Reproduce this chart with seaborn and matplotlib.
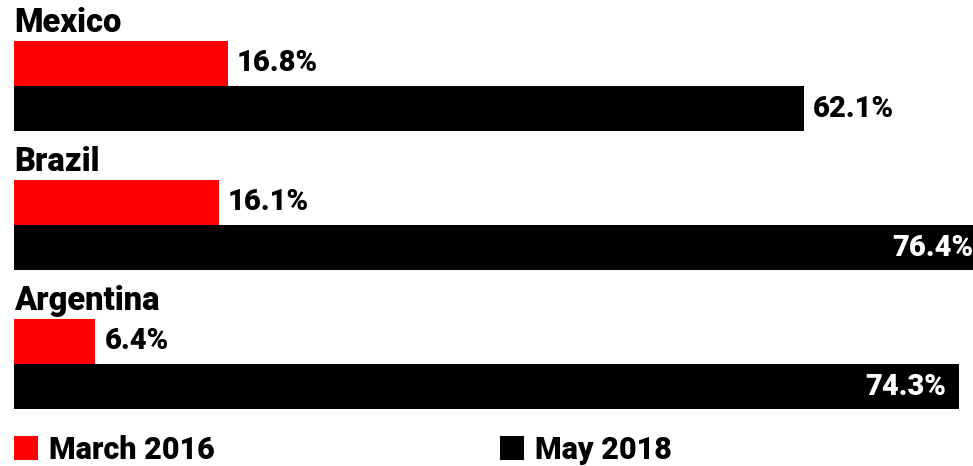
import matplotlib
matplotlib.use("Agg")
import matplotlib.pyplot as plt
from matplotlib.patches import Rectangle
import pandas as pd
import seaborn as sns

countries = ["Mexico", "Brazil", "Argentina"]
periods = ["March 2016", "May 2018"]
march_2016 = [16.8, 16.1, 6.4]
may_2018 = [62.1, 76.4, 74.3]
colors = ["#ff0000", "#000000"]

df = pd.DataFrame({
    "country": countries * 2,
    "period": [periods[0]] * 3 + [periods[1]] * 3,
    "value": march_2016 + may_2018,
})

sns.set_theme(style="white")
plt.rcParams["font.family"] = ["Roboto", "DejaVu Sans"]

W, H = 973, 466
fig = plt.figure(figsize=(W / 100, H / 100), dpi=100)
ax = fig.add_axes([14 / W, 46 / H, 959 / W, 420 / H])

sns.barplot(data=df, x="value", y="country", hue="period", orient="h",
            palette=colors, saturation=1, width=0.65, linewidth=0,
            legend=False, ax=ax)

ax.set_xlim(0, 959 / 12.72)
ax.set_ylim(2 + 56 / 139, -86 / 139)
ax.set_axis_off()

half = 0.65 / 2
for i, name in enumerate(countries):
    ax.text(0, i - half - 0.062, name, fontsize=23.5, fontweight="heavy",
            color="black", ha="left", va="baseline")

for j, vals in enumerate([march_2016, may_2018]):
    for i, v in enumerate(vals):
        yc = i - half / 2 + j * half
        label = f"{v:.1f}%"
        if v > 70:
            ax.text(v - 1.0, yc, label, fontsize=21, fontweight="heavy",
                    color="white", ha="right", va="center", clip_on=False)
        else:
            ax.text(v + 0.7, yc, label, fontsize=21, fontweight="heavy",
                    color="black", ha="left", va="center")

# Legend: coloured squares with period names along the bottom
legend_x = [14, 500]
for x0, c, p in zip(legend_x, colors, periods):
    fig.add_artist(Rectangle((x0 / W, 6 / H), 24 / W, 24 / H,
                             transform=fig.transFigure, facecolor=c,
                             edgecolor="none"))
    fig.text((x0 + 35) / W, 7 / H, p, fontsize=22, fontweight="heavy",
             color="black", ha="left", va="baseline")

fig.savefig("out.png", dpi=100)
